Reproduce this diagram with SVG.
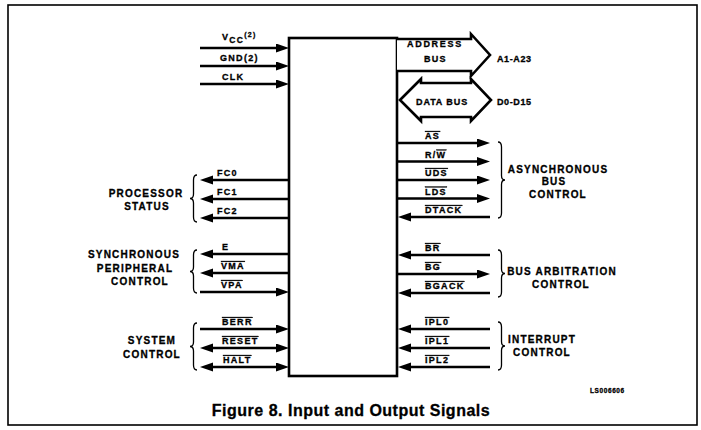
<svg xmlns="http://www.w3.org/2000/svg" width="701" height="430" viewBox="0 0 701 430">
<style>
text{font-family:"Liberation Sans",Arial,sans-serif;font-weight:bold;fill:#000;stroke:#000;stroke-width:0.3}
.sig{font-size:9px;letter-spacing:1.3px}
.grp{font-size:10px;letter-spacing:1.2px;text-anchor:middle}
.ol{text-decoration:overline}
.ln{stroke:#000;stroke-width:2.6;fill:none}
.br{stroke:#000;stroke-width:1.3;fill:none}
.bus{stroke:#000;stroke-width:2.6;fill:#fff;stroke-linejoin:miter}
</style>
<defs>
<marker id="ah" markerUnits="userSpaceOnUse" markerWidth="14" markerHeight="10" refX="7" refY="4.5" orient="auto-start-reverse"><path d="M0,0 L13,4.5 L0,9 z" fill="#000"/></marker>
</defs>
<rect x="8" y="5" width="689" height="420" fill="none" stroke="#000" stroke-width="1.6"/>

<g id="chip"><rect x="289" y="38" width="108" height="338" fill="#fff" stroke="#000" stroke-width="2.6"/></g>

<g id="connectors">
<line class="ln" x1="200" y1="48" x2="283" y2="48" marker-end="url(#ah)"/>
<line class="ln" x1="200" y1="66" x2="283" y2="66" marker-end="url(#ah)"/>
<line class="ln" x1="200" y1="84" x2="283" y2="84" marker-end="url(#ah)"/>
<line class="ln" x1="289" y1="180" x2="206" y2="180" marker-end="url(#ah)"/>
<line class="ln" x1="289" y1="199" x2="206" y2="199" marker-end="url(#ah)"/>
<line class="ln" x1="289" y1="218" x2="206" y2="218" marker-end="url(#ah)"/>
<line class="ln" x1="289" y1="254" x2="206" y2="254" marker-end="url(#ah)"/>
<line class="ln" x1="289" y1="273" x2="206" y2="273" marker-end="url(#ah)"/>
<line class="ln" x1="200" y1="292" x2="283" y2="292" marker-end="url(#ah)"/>
<line class="ln" x1="200" y1="329" x2="283" y2="329" marker-end="url(#ah)"/>
<line class="ln" x1="206" y1="348" x2="283" y2="348" marker-start="url(#ah)" marker-end="url(#ah)"/>
<line class="ln" x1="206" y1="367" x2="283" y2="367" marker-start="url(#ah)" marker-end="url(#ah)"/>
<line class="ln" x1="397" y1="143" x2="484" y2="143" marker-end="url(#ah)"/>
<line class="ln" x1="397" y1="161.5" x2="484" y2="161.5" marker-end="url(#ah)"/>
<line class="ln" x1="397" y1="180" x2="484" y2="180" marker-end="url(#ah)"/>
<line class="ln" x1="397" y1="198.5" x2="484" y2="198.5" marker-end="url(#ah)"/>
<line class="ln" x1="490" y1="217" x2="404" y2="217" marker-end="url(#ah)"/>
<line class="ln" x1="490" y1="255" x2="404" y2="255" marker-end="url(#ah)"/>
<line class="ln" x1="397" y1="274" x2="484" y2="274" marker-end="url(#ah)"/>
<line class="ln" x1="490" y1="293" x2="404" y2="293" marker-end="url(#ah)"/>
<line class="ln" x1="490" y1="329" x2="404" y2="329" marker-end="url(#ah)"/>
<line class="ln" x1="490" y1="348" x2="404" y2="348" marker-end="url(#ah)"/>
<line class="ln" x1="490" y1="367" x2="404" y2="367" marker-end="url(#ah)"/>
<path class="bus" d="M397,39 L471,39 L471,34 L490,55 L471,76 L471,71 L397,71"/>
<path class="bus" d="M400,100 L421,79 L421,83 L471,83 L471,79 L491,100 L471,121 L471,117 L421,117 L421,121 Z"/>
<path class="br" d="M197,175 Q193.5,175 193.5,180 L193.5,194 Q193.5,198.5 190,198.5 Q193.5,198.5 193.5,203 L193.5,217 Q193.5,222 197,222"/>
<path class="br" d="M197,250 Q193.5,250 193.5,255 L193.5,267 Q193.5,271.5 190,271.5 Q193.5,271.5 193.5,276 L193.5,288 Q193.5,293 197,293"/>
<path class="br" d="M197,323 Q193.5,323 193.5,328 L193.5,342 Q193.5,346.5 190,346.5 Q193.5,346.5 193.5,351 L193.5,365 Q193.5,370 197,370"/>
<path class="br" d="M498,142 Q501.5,142 501.5,147 L501.5,175.5 Q501.5,180 505,180 Q501.5,180 501.5,184.5 L501.5,213 Q501.5,218 498,218"/>
<path class="br" d="M498,250 Q501.5,250 501.5,255 L501.5,269 Q501.5,273.5 505,273.5 Q501.5,273.5 501.5,278 L501.5,292 Q501.5,297 498,297"/>
<path class="br" d="M498,322 Q501.5,322 501.5,327 L501.5,341.5 Q501.5,346 505,346 Q501.5,346 501.5,350.5 L501.5,365 Q501.5,370 498,370"/>
</g>

<g id="left-inputs">
<text class="sig" x="222" y="40">V<tspan font-size="8.5" dy="3">CC</tspan><tspan font-size="7" dy="-6">(2)</tspan></text>
<text class="sig" x="220" y="61">GND(2)</text>
<text class="sig" x="222" y="80">CLK</text>
</g>

<g id="address-bus">
<text class="sig" x="407" y="47" style="letter-spacing:1.7px">ADDRESS</text>
<text class="sig" x="424" y="62">BUS</text>
<text class="sig" x="497" y="62" style="letter-spacing:0.6px">A1-A23</text>
</g>
<g id="data-bus">
<text class="sig" x="416" y="105" style="letter-spacing:0.9px">DATA BUS</text>
<text class="sig" x="497" y="105" style="letter-spacing:0.6px">D0-D15</text>
</g>

<g id="processor-status">
<text class="sig" x="217" y="176">FC0</text>
<text class="sig" x="217" y="195">FC1</text>
<text class="sig" x="217" y="214">FC2</text>
<text class="grp" x="146" y="197">PROCESSOR</text>
<text class="grp" x="147" y="210">STATUS</text>
</g>

<g id="sync-peripheral">
<text class="sig" x="222" y="250">E</text>
<text class="sig ol" x="221" y="269">VMA</text>
<text class="sig ol" x="221" y="288">VPA</text>
<text class="grp" x="134" y="258">SYNCHRONOUS</text>
<text class="grp" x="135" y="272">PERIPHERAL</text>
<text class="grp" x="140" y="285">CONTROL</text>
</g>

<g id="system-control">
<text class="sig ol" x="222" y="325">BERR</text>
<text class="sig ol" x="222" y="344">RESET</text>
<text class="sig ol" x="223" y="363">HALT</text>
<text class="grp" x="152" y="344">SYSTEM</text>
<text class="grp" x="152" y="358">CONTROL</text>
</g>

<g id="async-bus">
<text class="sig ol" x="425" y="139">AS</text>
<text class="sig" x="425" y="157.5">R/<tspan class="ol">W</tspan></text>
<text class="sig ol" x="425" y="176">UDS</text>
<text class="sig ol" x="425" y="194.5">LDS</text>
<text class="sig ol" x="425" y="213">DTACK</text>
<text class="grp" x="558" y="173">ASYNCHRONOUS</text>
<text class="grp" x="554" y="185">BUS</text>
<text class="grp" x="558" y="198">CONTROL</text>
</g>

<g id="bus-arbitration">
<text class="sig ol" x="425" y="251">BR</text>
<text class="sig ol" x="425" y="270">BG</text>
<text class="sig ol" x="425" y="289">BGACK</text>
<text class="grp" x="562" y="275">BUS ARBITRATION</text>
<text class="grp" x="561" y="288">CONTROL</text>
</g>

<g id="interrupt-control">
<text class="sig ol" x="425" y="325">IPL0</text>
<text class="sig ol" x="425" y="344">IPL1</text>
<text class="sig ol" x="425" y="363">IPL2</text>
<text class="grp" x="542" y="343">INTERRUPT</text>
<text class="grp" x="542" y="356">CONTROL</text>
</g>

<text x="590" y="393" style="font-size:6.5px;letter-spacing:0.6px">LS006606</text>
<text x="351" y="416" style="font-size:16px;letter-spacing:0.5px;text-anchor:middle">Figure 8. Input and Output Signals</text>
</svg>
